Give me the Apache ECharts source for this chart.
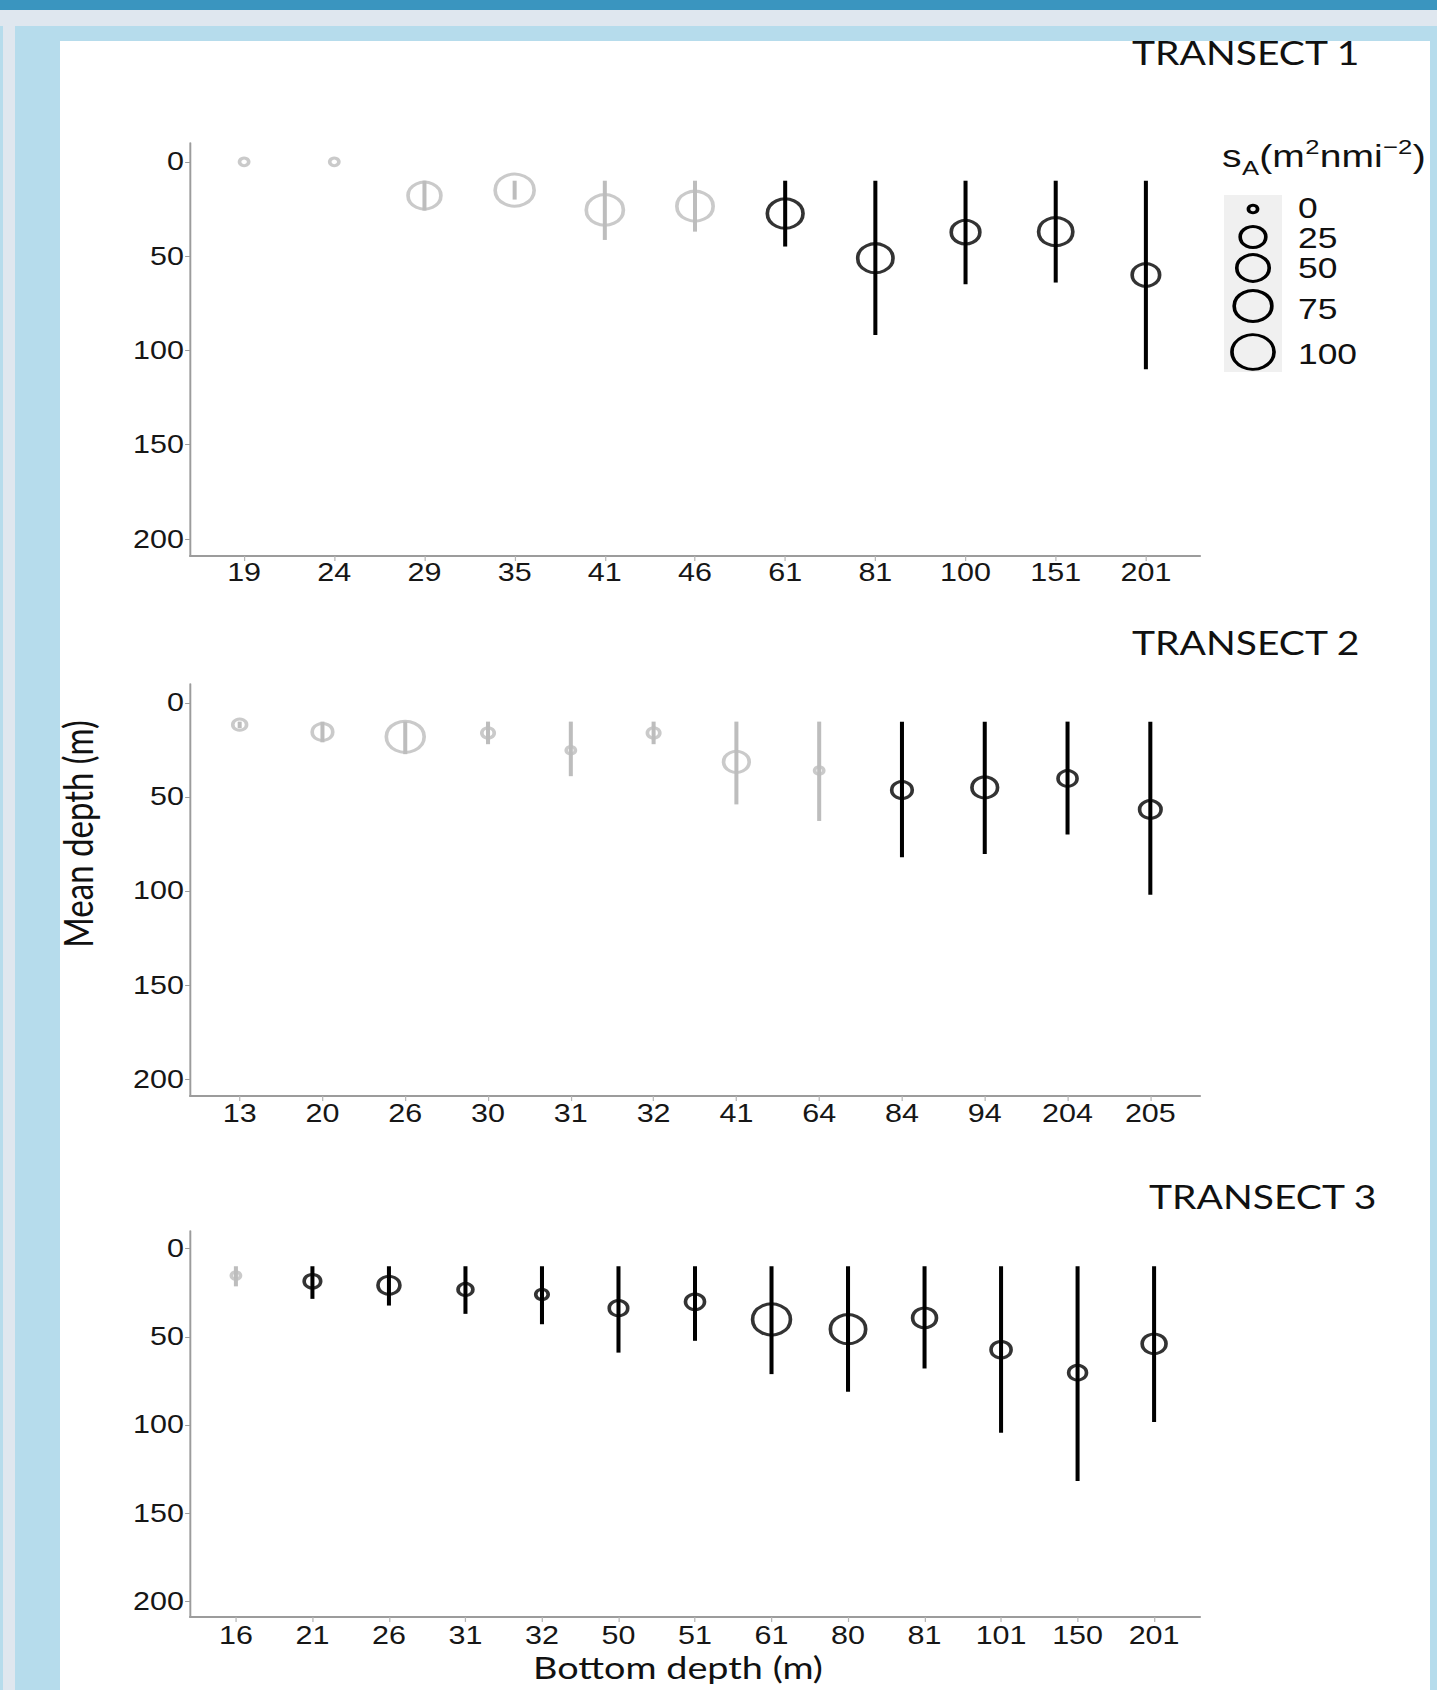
<!DOCTYPE html>
<html>
<head>
<meta charset="utf-8">
<script src="https://cdn.jsdelivr.net/npm/echarts@6/dist/echarts.min.js"></script>
<style>
html,body{margin:0;padding:0;}
body{width:1437px;height:1690px;position:relative;overflow:hidden;background:#b6dcec;}
#topbar{position:absolute;left:0;top:0;width:1437px;height:10px;background:#3a95bf;}
#band{position:absolute;left:0;top:10px;width:1437px;height:16px;background:#dfe7ef;}
#stripe{position:absolute;left:3px;top:26px;width:12px;height:1664px;background:#dfe7ef;}
#panel{position:absolute;left:60px;top:41px;width:1370px;height:1649px;background:#ffffff;}
#chart{position:absolute;left:0;top:0;width:1178px;height:1690px;transform:scaleX(1.22);transform-origin:0 0;}
</style>
</head>
<body>
<div id="topbar"></div><div id="band"></div><div id="stripe"></div><div id="panel"></div>
<div id="chart"></div>
<script>
// ---------------- DATA ----------------
const t1BottomDepth = ['19','24','29','35','41','46','61','81','100','151','201'];
const t1MeanDepth   = [0, 0, 17.9, 15, 25.5, 23.5, 27.4, 51.1, 37.3, 37, 60];
const t1SA          = [0, 0, 52, 82, 72, 68, 65, 63, 35, 58, 31];
const t1RangeTop    = [null, null, 10, 10, 10, 10, 10, 10, 10, 10, 10];
const t1RangeBottom = [null, null, 25.8, 20, 41.4, 37, 44.9, 91.8, 64.9, 64, 110];
const t1Highlighted = [0, 0, 0, 0, 0, 0, 1, 1, 1, 1, 1];

const t2BottomDepth = ['13','20','26','30','31','32','41','64','84','94','204','205'];
const t2MeanDepth   = [11.6, 15.5, 18.1, 16, 25.2, 16, 31.4, 36, 46.4, 45, 40.2, 56.7];
const t2SA          = [2, 12, 76, 1, 0, 1, 25, 0, 12, 25, 9, 14];
const t2RangeTop    = [10, 10, 10, 10, 10, 10, 10, 10, 10, 10, 10, 10];
const t2RangeBottom = [13.5, 21, 27.3, 22, 39, 22, 54, 62.8, 82.1, 80.4, 70, 102];
const t2Highlighted = [0, 0, 0, 0, 0, 0, 0, 0, 1, 1, 1, 1];

const t3BottomDepth = ['16','21','26','31','32','50','51','61','80','81','101','150','201'];
const t3MeanDepth   = [15.3, 18.5, 20.8, 23.2, 26, 33.8, 30.2, 40.2, 45.7, 39.3, 57.4, 70.4, 54];
const t3SA          = [0, 5, 15, 3, 1, 8, 9, 76, 63, 20, 11, 7, 20];
const t3RangeTop    = [10, 10, 10, 10, 10, 10, 10, 10, 10, 10, 10, 10, 10];
const t3RangeBottom = [21.4, 28.5, 32.3, 37, 42.9, 59, 52.3, 71.2, 81.2, 68, 104.4, 131.8, 98.3];
const t3Highlighted = [0, 1, 1, 1, 1, 1, 1, 1, 1, 1, 1, 1, 1];

const yTickValues = [0, 50, 100, 150, 200];
const legendValues = [0, 25, 50, 75, 100];
const transectTitles = ['TRANSECT 1', 'TRANSECT 2', 'TRANSECT 3'];

// ---------------- LAYOUT / STYLE ----------------
const STRETCH = 1.22;
const sx = v => v / STRETCH;
const GREY = '#bdbdbd', BLACK = '#000000';
const AXIS = '#9c9c9c';
const markerDiameter = v => 10.5 + 2.7 * Math.sqrt(v);

const transects = [
  {cats:t1BottomDepth, mean:t1MeanDepth, sa:t1SA, top:t1RangeTop, bottom:t1RangeBottom, hl:t1Highlighted},
  {cats:t2BottomDepth, mean:t2MeanDepth, sa:t2SA, top:t2RangeTop, bottom:t2RangeBottom, hl:t2Highlighted},
  {cats:t3BottomDepth, mean:t3MeanDepth, sa:t3SA, top:t3RangeTop, bottom:t3RangeBottom, hl:t3Highlighted}
];
const boxes = [
  {top:143, height:413, titleX:1132, titleY:53, margin:4},
  {top:684, height:412, titleX:1132, titleY:643, margin:5},
  {top:1231, height:386, titleX:1149, titleY:1197, margin:6}
];

const grid = [], xAxis = [], yAxis = [], series = [];
transects.forEach((t, i) => {
  const b = boxes[i];
  const n = t.cats.length;
  const pos = t.cats.map((c, k) => k + 1);
  grid.push({left: sx(190), width: sx(1010), top: b.top, height: b.height, containLabel:false});
  xAxis.push({
    gridIndex:i, type:'value', min:0.4, max:n + 0.6,
    axisLine:{show:true, onZero:false, lineStyle:{color:AXIS, width:1.8}},
    axisTick:{show:true, length:5, customValues:pos, lineStyle:{color:'#b5b5b5', width:1}},
    axisLabel:{show:true, customValues:pos, formatter:(v) => t.cats[Math.round(v) - 1],
      fontFamily:'Liberation Sans, Arial, sans-serif', fontSize:25, color:'#161616', margin:b.margin},
    splitLine:{show:false}
  });
  yAxis.push({
    gridIndex:i, type:'value', inverse:true, min:-10, max:209,
    axisLine:{show:true, onZero:false, lineStyle:{color:AXIS, width:1.6}},
    axisTick:{show:true, length:4, customValues:yTickValues, lineStyle:{color:AXIS, width:1}},
    axisLabel:{show:true, customValues:yTickValues, fontFamily:'Liberation Sans, Arial, sans-serif',
      fontSize:25, color:'#161616', margin:5},
    splitLine:{show:false}
  });
  const bars = [];
  t.top.forEach((tp, k) => { if (tp !== null) bars.push([k + 1, tp, t.bottom[k], t.hl[k]]); });
  series.push({
    type:'custom', xAxisIndex:i, yAxisIndex:i, silent:true, z:2, data:bars,
    renderItem:(params, api) => {
      const a = api.coord([api.value(0), api.value(1)]);
      const c = api.coord([api.value(0), api.value(2)]);
      return {type:'line', shape:{x1:a[0], y1:a[1], x2:c[0], y2:c[1]},
        style:{stroke: api.value(3) ? BLACK : GREY, lineWidth:3.3}};
    }
  });
  series.push({
    type:'scatter', xAxisIndex:i, yAxisIndex:i, silent:true, z:3,
    symbol:'circle',
    symbolSize:(val) => markerDiameter(val[2]) - 3,
    itemStyle:{color:'rgba(0,0,0,0)', borderWidth:3},
    emphasis:{disabled:true},
    data: t.mean.map((m, k) => ({value:[k + 1, m, t.sa[k]], itemStyle:{borderColor: t.hl[k] ? BLACK : GREY}}))
  });
});

// ---------------- TEXT / LEGEND ----------------
const graphic = [];
transectTitles.forEach((title, i) => {
  graphic.push({type:'text', x:sx(boxes[i].titleX), y:boxes[i].titleY, silent:true,
    style:{text:title, fontFamily:'Lato, "Open Sans", sans-serif', fontSize:32, fill:'#111',
      align:'left', verticalAlign:'middle'}});
});
graphic.push({type:'text', x:sx(78), y:834, rotation:Math.PI / 2, silent:true,
  style:{text:'Mean depth (m)', fontFamily:'Lato, "Open Sans", sans-serif', fontSize:33, fill:'#111',
    align:'center', verticalAlign:'middle'}});
graphic.push({type:'text', x:sx(678), y:1667, silent:true,
  style:{text:'Bottom depth (m)', fontFamily:'Lato, "Open Sans", sans-serif', fontSize:31, fill:'#111',
    align:'center', verticalAlign:'middle'}});

// legend title  s_A(m^2 nmi^-2)
const mctx = document.createElement('canvas').getContext('2d');
const LF = 'Liberation Sans, Arial, sans-serif';
const pieces = [
  {t:'s', size:32, base:167},
  {t:'A', size:21, base:175},
  {t:'(m', size:32, base:167},
  {t:'2', size:21, base:154},
  {t:'nmi', size:32, base:167},
  {t:'\u22122', size:21, base:154},
  {t:')', size:32, base:167}
];
let lx = sx(1222);
pieces.forEach(p => {
  mctx.font = p.size + 'px ' + LF;
  const w = mctx.measureText(p.t).width;
  graphic.push({type:'text', x:lx, y:p.base - 0.347 * p.size, silent:true,
    style:{text:p.t, fontFamily:LF, fontSize:p.size, fill:'#111', align:'left', verticalAlign:'middle'}});
  lx += w + 0.3;
});
graphic.push({type:'rect', silent:true, shape:{x:sx(1224), y:195, width:sx(58), height:177}, style:{fill:'#f0f0f0'}, z:-1});
const legendCy = [209, 237, 268, 306, 352];
const legendLy = [208, 238, 268, 309, 354];
legendValues.forEach((v, k) => {
  graphic.push({type:'circle', silent:true, x:sx(1253), y:legendCy[k],
    shape:{cx:0, cy:0, r:(markerDiameter(v) - 3) / 2}, style:{fill:'none', stroke:'#000', lineWidth:3}});
  graphic.push({type:'text', silent:true, x:sx(1298), y:legendLy[k],
    style:{text:String(v), fontFamily:LF, fontSize:29, fill:'#111', align:'left', verticalAlign:'middle'}});
});

const chart = echarts.init(document.getElementById('chart'), null, {renderer:'svg'});
chart.setOption({
  backgroundColor:'transparent',
  animation:false,
  grid, xAxis, yAxis, series, graphic
});
</script>
</body>
</html>
